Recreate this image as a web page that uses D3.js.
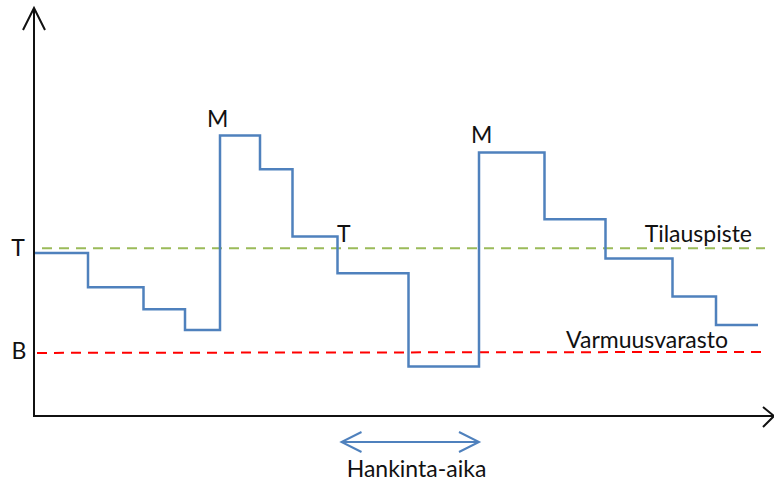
<!DOCTYPE html>
<html><head><meta charset="utf-8">
<script src="https://cdn.jsdelivr.net/npm/d3@7"></script>
<style>html,body{margin:0;padding:0;background:#fff;}svg{display:block;}</style>
</head><body>
<svg id="c" width="774" height="483"></svg>
<script>
// Inventory step series (time units, stock level units)
const times  = [0, 10.6, 21.7, 30, 37, 45, 51.5, 60.5, 74.7, 88.8, 101.9, 114.1, 127.5, 136.2, 144.6];
const levels = [81.5, 64.4, 53.4, 43, 140.2, 123.4, 89.7, 71.4, 24.7, 131.7, 98.4, 78.7, 59.7, 45.5, 45.5];
const reorderPoint = 83.9;   // Tilauspiste (T)
const safetyStock = 31.8;    // Varmuusvarasto (B)
const leadTime = [61.3, 88.8]; // Hankinta-aika
const pointLabels = ["M", "M", "T"];
const pointTimes  = [36.2, 89.2, 61.6];
const pointLevels = [140.2, 131.7, 89.7];

const svg = d3.select("#c");
const x = d3.scaleLinear().domain([0, 148]).range([35, 775]);
const y = d3.scaleLinear().domain([0, 203]).range([416, 10]);
const font = "Lato, 'Open Sans', sans-serif";
const fs = 23;

// axes
svg.append("line").attr("x1", x(0) - 1).attr("x2", x(0) - 1).attr("y1", y(0) + 1).attr("y2", y(203) - 1)
  .attr("stroke", "#111").attr("stroke-width", 2);
svg.append("polyline").attr("points", `${x(0)-12},${y(193)} ${x(0)-1},${y(203)-2} ${x(0)+10},${y(193)}`)
  .attr("fill", "none").attr("stroke", "#111").attr("stroke-width", 2);
svg.append("line").attr("x1", x(0) - 2).attr("x2", x(147.6)).attr("y1", y(0)).attr("y2", y(0))
  .attr("stroke", "#111").attr("stroke-width", 2);
svg.append("polyline").attr("points", `${x(145.6)},${y(4.5)} ${x(147.8)},${y(0)} ${x(145.6)},${y(-5.5)}`)
  .attr("fill", "none").attr("stroke", "#111").attr("stroke-width", 2);

// reference lines
svg.append("line").attr("x1", x(1.4)).attr("x2", x(146)).attr("y1", y(reorderPoint)).attr("y2", y(reorderPoint))
  .attr("stroke", "#9BBB59").attr("stroke-width", 2).attr("stroke-dasharray", "10,7");
svg.append("line").attr("x1", x(0.4)).attr("x2", x(146)).attr("y1", y(safetyStock) + 0.5).attr("y2", y(safetyStock) - 0.5)
  .attr("stroke", "#FF0000").attr("stroke-width", 2).attr("stroke-dasharray", "10,7");

// step line
const data = times.map((t, i) => ({t, v: levels[i]}));
svg.append("path").datum(data)
  .attr("d", d3.line().x(d => x(d.t)).y(d => y(d.v)).curve(d3.curveStepAfter))
  .attr("fill", "none").attr("stroke", "#4F81BD").attr("stroke-width", 2.5);

// labels
svg.append("text").attr("x", 18).attr("y", y(reorderPoint) + 8).attr("text-anchor", "middle")
  .attr("font-family", font).attr("font-size", fs).attr("fill", "#111").text("T");
svg.append("text").attr("x", 19).attr("y", y(safetyStock) + 7).attr("text-anchor", "middle")
  .attr("font-family", font).attr("font-size", fs).attr("fill", "#111").text("B");
const offs = [[-9, -8.5], [-10, -9.6], [-6, 5.5]];
pointLabels.forEach((s, i) => {
  svg.append("text").attr("x", x(pointTimes[i]) + offs[i][0]).attr("y", y(pointLevels[i]) + offs[i][1])
    .attr("font-family", font).attr("font-size", fs).attr("fill", "#111").text(s);
});
svg.append("text").attr("x", 752).attr("y", y(reorderPoint) - 6).attr("text-anchor", "end")
  .attr("font-family", font).attr("font-size", fs).attr("fill", "#111").text("Tilauspiste");
svg.append("text").attr("x", 728).attr("y", y(safetyStock) - 4).attr("text-anchor", "end")
  .attr("font-family", font).attr("font-size", fs).attr("fill", "#111").text("Varmuusvarasto");

// lead time arrow
const ay = 442;
svg.append("line").attr("x1", x(leadTime[0])).attr("x2", x(leadTime[1])).attr("y1", ay).attr("y2", ay)
  .attr("stroke", "#4F81BD").attr("stroke-width", 2);
svg.append("polyline").attr("points", `${x(leadTime[0])+20},${ay-10} ${x(leadTime[0])},${ay} ${x(leadTime[0])+20},${ay+10}`)
  .attr("fill", "none").attr("stroke", "#4F81BD").attr("stroke-width", 2);
svg.append("polyline").attr("points", `${x(leadTime[1])-20},${ay-10} ${x(leadTime[1])},${ay} ${x(leadTime[1])-20},${ay+10}`)
  .attr("fill", "none").attr("stroke", "#4F81BD").attr("stroke-width", 2);
svg.append("text").attr("x", 416.5).attr("y", 477).attr("text-anchor", "middle")
  .attr("font-family", font).attr("font-size", fs).attr("fill", "#111").text("Hankinta-aika");
</script>
</body></html>
